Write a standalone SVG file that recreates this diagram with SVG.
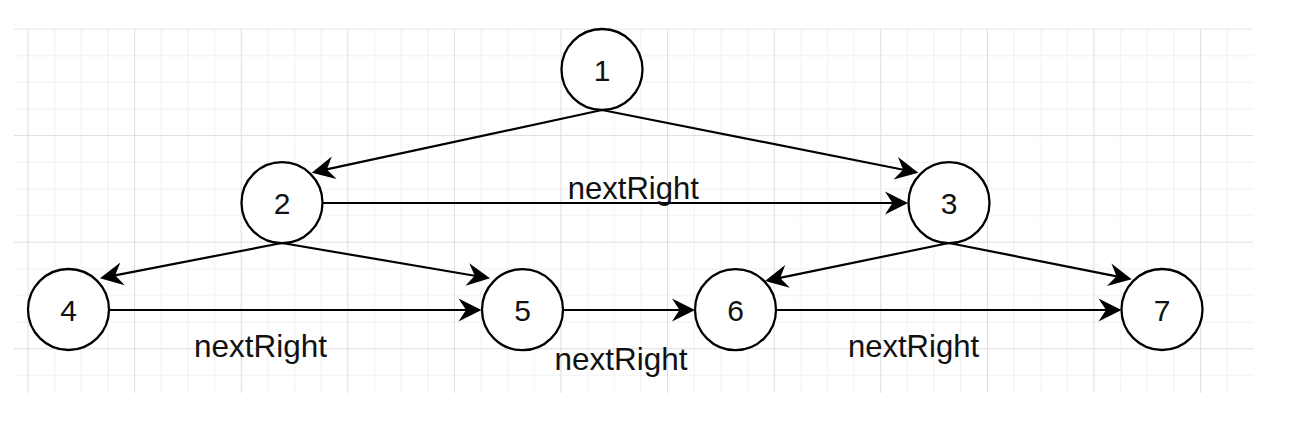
<svg xmlns="http://www.w3.org/2000/svg" width="1290" height="428" viewBox="0 0 1290 428">
  <style>
    .node circle { fill: #ffffff; stroke: #000000; stroke-width: 2.3; }
    .node text { font-family: "Liberation Sans", Arial, Helvetica, sans-serif; font-size: 30px; fill: #111111; text-anchor: middle; }
    .edge { fill: none; stroke: #000000; stroke-width: 2.2; marker-end: url(#arrow); }
    .label { font-family: "Liberation Sans", Arial, Helvetica, sans-serif; font-size: 30.5px; fill: #111111; text-anchor: middle; }
    .minor { stroke: #efefef; stroke-width: 1; }
    .major { stroke: #dddddd; stroke-width: 1; }
  </style>
  <defs>
    <pattern id="grid" patternUnits="userSpaceOnUse" x="27.5" y="28.5" width="106.6" height="106.6">
      <path class="minor" d="M27.15,0 V106.6 M53.8,0 V106.6 M80.45,0 V106.6 M0,27.15 H106.6 M0,53.8 H106.6 M0,80.45 H106.6"/>
      <path class="major" d="M0.5,0 V106.6 M0,0.5 H106.6"/>
    </pattern>
    <marker id="arrow" markerUnits="userSpaceOnUse" markerWidth="26" markerHeight="26" viewBox="-24 -13 26 26" refX="-14" refY="0" orient="auto">
      <path d="M0,0 L-23,-11.5 L-15.5,0 L-23,11.5 Z" fill="#000000"/>
    </marker>
  </defs>

  <rect x="0" y="0" width="1290" height="428" fill="#ffffff"/>
  <rect x="14" y="28.5" width="1239" height="364.5" fill="url(#grid)"/>

  <g id="connectors">
    <path class="edge" d="M602,110 L325.4,169.7"/>
    <path class="edge" d="M602,110 L904.6,170.0"/>
    <path class="edge" d="M322.5,203 L894,203"/>
    <path class="edge" d="M282,243 L113.7,275.6"/>
    <path class="edge" d="M282,243 L476.2,276.0"/>
    <path class="edge" d="M949,243 L778.7,278.2"/>
    <path class="edge" d="M949,243 L1118.0,276.6"/>
    <path class="edge" d="M109,310 L467.5,310"/>
    <path class="edge" d="M563,310 L681,310"/>
    <path class="edge" d="M776,310 L1107.5,310"/>
    <text class="label" x="633.3" y="198.5" textLength="131" lengthAdjust="spacingAndGlyphs">nextRight</text>
    <text class="label" x="260.5" y="357" textLength="133" lengthAdjust="spacingAndGlyphs">nextRight</text>
    <text class="label" x="621" y="369.5" textLength="133" lengthAdjust="spacingAndGlyphs">nextRight</text>
    <text class="label" x="913.5" y="357" textLength="131" lengthAdjust="spacingAndGlyphs">nextRight</text>
  </g>

  <g id="node1" class="node"><circle cx="602" cy="69.5" r="40.5"/><text x="602" y="80.5">1</text></g>
  <g id="node2" class="node"><circle cx="282" cy="202.7" r="40.5"/><text x="282" y="213.7">2</text></g>
  <g id="node3" class="node"><circle cx="949" cy="202.7" r="40.5"/><text x="949" y="213.7">3</text></g>
  <g id="node4" class="node"><circle cx="68.5" cy="309.5" r="40.5"/><text x="68.5" y="320.5">4</text></g>
  <g id="node5" class="node"><circle cx="522.5" cy="309.7" r="40.5"/><text x="522.5" y="320.7">5</text></g>
  <g id="node6" class="node"><circle cx="735.5" cy="309.7" r="40.5"/><text x="735.5" y="320.7">6</text></g>
  <g id="node7" class="node"><circle cx="1162" cy="309.5" r="40.5"/><text x="1162" y="320.5">7</text></g>
</svg>
